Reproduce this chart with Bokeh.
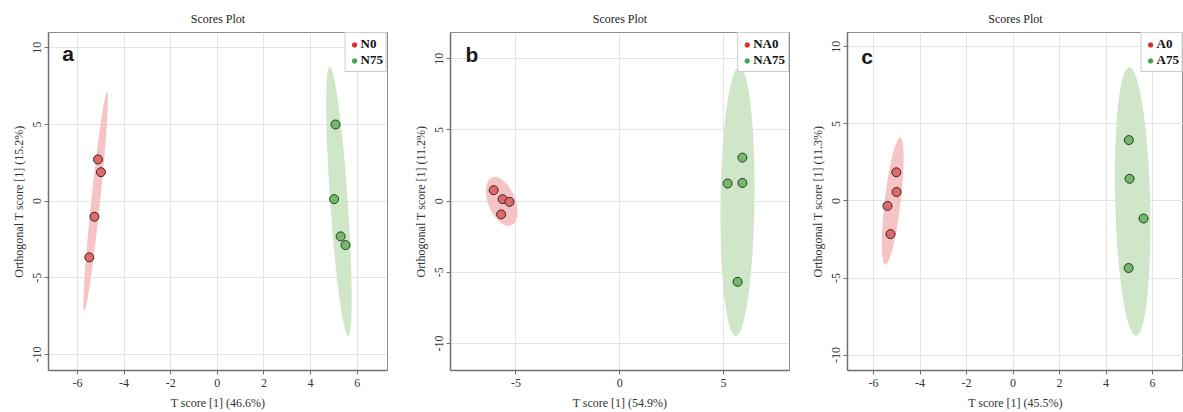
import numpy as np
from bokeh.plotting import figure
from bokeh.models import Range1d, FixedTicker, Legend, LegendItem, Label, PrintfTickFormatter
from bokeh.layouts import row
from bokeh.embed import file_html
from bokeh.resources import INLINE

# ---------------- data ----------------
# Panel a
a_ctrl_x = [-5.12, -4.99, -5.27, -5.49]
a_ctrl_y = [2.72, 1.89, -1.02, -3.67]
a_trt_x = [5.07, 5.01, 5.29, 5.50]
a_trt_y = [5.00, 0.13, -2.30, -2.87]
# Panel b
b_ctrl_x = [-6.07, -5.64, -5.31, -5.71]
b_ctrl_y = [0.77, 0.14, -0.05, -0.93]
b_trt_x = [5.91, 5.20, 5.91, 5.68]
b_trt_y = [3.06, 1.24, 1.28, -5.67]
# Panel c
c_ctrl_x = [-5.02, -5.01, -5.40, -5.27]
c_ctrl_y = [1.86, 0.58, -0.32, -2.15]
c_trt_x = [4.98, 5.01, 5.61, 4.97]
c_trt_y = [3.95, 1.44, -1.14, -4.35]

a_groups = ["N0", "N75"]
b_groups = ["NA0", "NA75"]
c_groups = ["A0", "A75"]

a_xlabel = "T score [1] (46.6%)"
a_ylabel = "Orthogonal T score [1] (15.2%)"
b_xlabel = "T score [1] (54.9%)"
b_ylabel = "Orthogonal T score [1] (11.2%)"
c_xlabel = "T score [1] (45.5%)"
c_ylabel = "Orthogonal T score [1] (11.3%)"

a_xticks = [-6, -4, -2, 0, 2, 4, 6]
b_xticks = [-5, 0, 5]
c_xticks = [-6, -4, -2, 0, 2, 4, 6]
y_ticks = [-10, -5, 0, 5, 10]

CHI2_95 = 5.991  # chi-square quantile, 2 df, 95 %

RED_PT = "#e06a6a"
GREEN_PT = "#74b86c"
RED_ELL = "#f6c4c4"
GREEN_ELL = "#cfe6c8"
RED_LEG = "#e02a2a"
GREEN_LEG = "#3aa657"
SERIF = "Liberation Serif"


def conf_ellipse(xs, ys, n=240):
    pts = np.column_stack([xs, ys])
    mu = pts.mean(axis=0)
    cov = np.cov(pts, rowvar=False)
    vals, vecs = np.linalg.eigh(cov)
    t = np.linspace(0, 2 * np.pi, n)
    circ = np.stack([np.cos(t), np.sin(t)])
    e = (vecs @ (np.sqrt(vals * CHI2_95)[:, None] * circ)).T + mu
    return e[:, 0], e[:, 1]


def panel(width, bl, br, xr, yr, xticks, xlabel, ylabel,
          cx, cy, tx, ty, groups, letter, letter_pos):
    p = figure(width=width, height=412, output_backend="svg",
               toolbar_location=None, title="Scores Plot",
               x_range=Range1d(*xr), y_range=Range1d(*yr),
               min_border_left=bl, min_border_right=br,
               min_border_top=32, min_border_bottom=41)
    p.title.text_font = SERIF
    p.title.text_font_size = "12px"
    p.title.text_font_style = "normal"
    p.title.text_color = "#222222"
    p.title.align = "center"
    p.title.standoff = 13

    ex, ey = conf_ellipse(cx, cy)
    p.patch(ex, ey, fill_color=RED_ELL, line_color=None)
    ex, ey = conf_ellipse(tx, ty)
    p.patch(ex, ey, fill_color=GREEN_ELL, line_color=None)

    p.scatter(cx, cy, size=9, fill_color=RED_PT, line_color="#3a2222", line_width=1)
    p.scatter(tx, ty, size=9, fill_color=GREEN_PT, line_color="#223a22", line_width=1)

    # legend proxies (nothing drawn in the plot area)
    r0 = p.scatter(x=[np.nan], y=[np.nan], fill_color=RED_LEG, line_color=RED_LEG)
    r1 = p.scatter(x=[np.nan], y=[np.nan], fill_color=GREEN_LEG, line_color=GREEN_LEG)
    leg = Legend(items=[LegendItem(label=groups[0], renderers=[r0]),
                        LegendItem(label=groups[1], renderers=[r1])],
                 location="top_right", margin=0, padding=3, spacing=0,
                 glyph_width=11, glyph_height=11, label_height=11,
                 label_standoff=1, label_text_font=SERIF,
                 label_text_font_style="bold", label_text_font_size="13px",
                 label_text_color="#111111",
                 border_line_color="#9a9a9a", background_fill_color="white",
                 background_fill_alpha=1)
    p.add_layout(leg)

    p.xaxis.ticker = FixedTicker(ticks=xticks)
    p.yaxis.ticker = FixedTicker(ticks=y_ticks)
    p.xaxis.formatter = PrintfTickFormatter(format="%d")
    p.yaxis.formatter = PrintfTickFormatter(format="%d")
    p.xaxis.axis_label = xlabel
    p.yaxis.axis_label = ylabel
    for ax in (p.xaxis[0], p.yaxis[0]):
        ax.axis_line_color = "#707070"
        ax.axis_line_width = 1.5
        ax.major_tick_line_color = "#707070"
        ax.major_tick_out = 4
        ax.major_tick_in = 0
        ax.minor_tick_out = 0
        ax.minor_tick_in = 0
        ax.major_label_text_font = SERIF
        ax.major_label_text_font_size = "12px"
        ax.major_label_text_color = "#333333"
        ax.axis_label_text_font = SERIF
        ax.axis_label_text_font_size = "12px"
        ax.axis_label_text_font_style = "normal"
        ax.axis_label_text_color = "#333333"
    p.xaxis.major_label_standoff = 4
    p.xaxis.axis_label_standoff = 6
    p.yaxis.major_label_standoff = 3
    p.yaxis.axis_label_standoff = 5
    p.yaxis.major_label_orientation = "vertical"

    p.grid.grid_line_color = "#e4e4e4"
    p.grid.grid_line_width = 1
    p.outline_line_color = "#8c8c8c"
    p.outline_line_width = 1
    p.background_fill_color = "white"
    p.border_fill_color = "white"

    p.add_layout(Label(x=letter_pos[0], y=letter_pos[1], text=letter,
                       text_font="Liberation Sans", text_font_style="bold",
                       text_font_size="21px", text_color="#1a1a1a"))
    return p


pa = panel(395, 48, 8, (-7.24, 7.30), (-11.05, 11.0), a_xticks, a_xlabel, a_ylabel,
           a_ctrl_x, a_ctrl_y, a_trt_x, a_trt_y, a_groups, "a", (-6.65, 8.85))
pb = panel(395, 55, 1, (-8.15, 8.18), (-11.9, 11.85), b_xticks, b_xlabel, b_ylabel,
           b_ctrl_x, b_ctrl_y, b_trt_x, b_trt_y, b_groups, "b", (-7.43, 9.5))
pc = panel(393, 57, 0, (-7.12, 7.33), (-11.0, 10.93), c_xticks, c_xlabel, c_ylabel,
           c_ctrl_x, c_ctrl_y, c_trt_x, c_trt_y, c_groups, "c", (-6.53, 8.6))

layout = row(pa, pb, pc)
open("out.html", "w").write(file_html(layout, INLINE))
